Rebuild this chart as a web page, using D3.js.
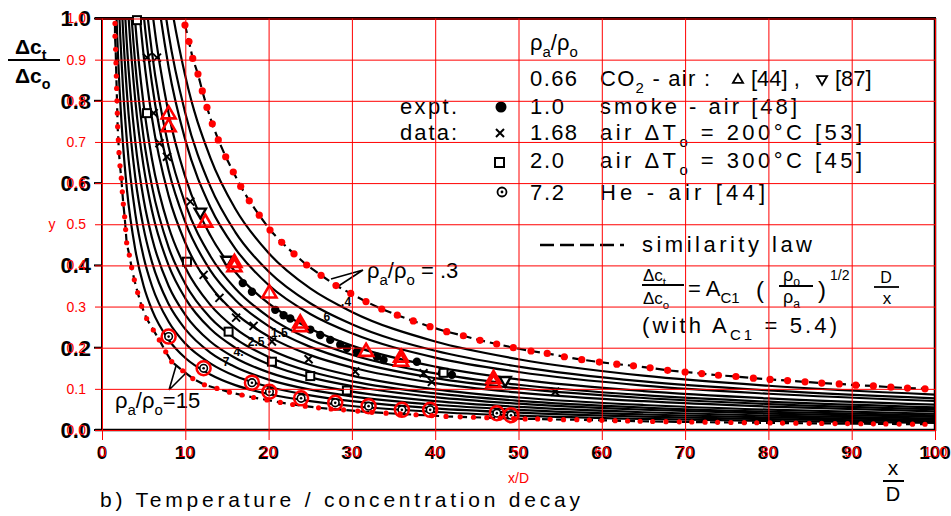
<!DOCTYPE html>
<html>
<head>
<meta charset="utf-8">
<script src="https://cdn.jsdelivr.net/npm/d3@7"></script>
<style>
  body { margin: 0; background: #fff; }
  svg { display: block; }
  text { font-family: "Liberation Sans", Arial, sans-serif; }
</style>
</head>
<body>
<svg id="chart" width="951" height="516"></svg>
<script>
// ---------- data ----------
const xTicks = [0, 10, 20, 30, 40, 50, 60, 70, 80, 90, 100];
const yTicks = [0, 0.1, 0.2, 0.3, 0.4, 0.5, 0.6, 0.7, 0.8, 0.9, 1.0];
const yTicksMajor = [0, 0.2, 0.4, 0.6, 0.8, 1.0];

// similarity-law curve for rho_a/rho_o = .3 (upper bound)
const upperDots = [
  [9.96,0.984],[10.44,0.944],[10.89,0.903],[11.52,0.865],[12.04,0.824],[12.6,0.784],[13.24,0.744],
  [13.96,0.705],[14.85,0.664],[15.76,0.627],[16.65,0.592],[17.68,0.557],[18.88,0.522],[20.17,0.486],
  [21.57,0.456],[23.05,0.428],[24.57,0.401],[26.3,0.376],[28.09,0.351],[29.86,0.332],[31.69,0.312],
  [33.58,0.294],[35.45,0.279],[37.37,0.265],[39.38,0.251],[41.38,0.239],[43.38,0.229],[45.38,0.218],
  [47.38,0.209],[49.38,0.200],[51.5,0.192],[53.45,0.186],[55.5,0.178],[57.59,0.171],[59.7,0.165],
  [61.8,0.160],[63.8,0.156],[65.8,0.151],[67.9,0.145],[70.0,0.141],[72.0,0.137],[74.0,0.133],
  [76.1,0.130],[78.2,0.126],[80.2,0.123],[82.3,0.120],[84.4,0.117],[86.4,0.114],[88.5,0.112],
  [90.5,0.109],[92.6,0.107],[94.7,0.104],[96.7,0.102],[98.8,0.100]
];

// similarity-law curve for rho_a/rho_o = 15 (lower bound)
const lowerDots = [
  [1.56,0.988],[1.56,0.957],[1.64,0.925],[1.68,0.892],[1.72,0.860],[1.76,0.830],[1.80,0.800],
  [1.84,0.770],[1.88,0.737],[1.96,0.705],[2.04,0.674],[2.16,0.642],[2.32,0.612],[2.44,0.579],
  [2.56,0.549],[2.72,0.518],[2.84,0.487],[2.96,0.455],[3.28,0.425],[3.56,0.395],[3.88,0.365],
  [4.28,0.334],[4.76,0.301],[5.36,0.271],[6.16,0.243],[6.88,0.219],[7.65,0.190],[8.37,0.166],
  [9.69,0.144],[10.9,0.125],[12.3,0.110],[13.8,0.101],[15.3,0.092],[16.8,0.085],[18.2,0.079],
  [19.8,0.073],[21.4,0.067],[22.9,0.062],[24.4,0.058],[26.0,0.054],[27.5,0.051],[29.0,0.049],
  [30.7,0.046],[32.4,0.043],[34.1,0.041],[35.8,0.039],[37.7,0.037],[39.6,0.035],[41.3,0.033],
  [43.0,0.032],[44.6,0.031],[46.2,0.030],[47.8,0.029],[49.4,0.028],[50.8,0.027],[52.3,0.027],
  [53.8,0.026],[55.4,0.025],[57.0,0.025],[58.5,0.024],[60.0,0.0235],[61.6,0.0227],[63.1,0.0219],
  [64.6,0.0213],[66.1,0.0207],[67.7,0.0203],[69.3,0.0198],[70.8,0.0194],[72.4,0.0190],[73.9,0.0186],
  [75.5,0.0182],[77.1,0.0179],[78.6,0.0176],[80.2,0.0172],[81.7,0.0169],[83.3,0.0166],[84.9,0.0163],
  [86.4,0.0160],[88.0,0.0157],[89.5,0.0155],[91.1,0.0152],[92.6,0.0150],[94.1,0.0147],[95.7,0.0145],
  [97.3,0.0142],[98.8,0.0140]
];

// CO2 - air, open triangles [44]
const co2Points = [
  [8.0,0.767],[8.0,0.736],[12.4,0.504],[15.9,0.406],[15.9,0.396],[20.1,0.332],[23.8,0.259],
  [23.8,0.250],[31.7,0.190],[35.9,0.176],[35.9,0.166],[47.0,0.124],[47.0,0.114]
];
// CO2 - air, inverted triangles [87]
const co2InvPoints = [[11.8,0.530],[15.0,0.413],[48.4,0.121]];
// smoke - air [48]
const smokePoints = [
  [16.9,0.357],[18.0,0.336],[20.8,0.292],[21.8,0.279],[22.6,0.271],[25.0,0.244],[26.2,0.231],
  [27.4,0.219],[28.6,0.207],[29.4,0.199],[30.6,0.190],[33.0,0.178],[33.8,0.170],[37.8,0.166],
  [40.8,0.138],[42.0,0.134]
];
// air, dT0 = 200 C [53]
const air200Points = [
  [5.4,0.905],[6.6,0.905],[6.2,0.770],[6.9,0.697],[7.8,0.664],[10.6,0.555],[12.2,0.377],
  [14.1,0.321],[16.1,0.273],[18.2,0.253],[20.4,0.215],[24.8,0.172],[30.4,0.142],[38.6,0.138],
  [39.6,0.117],[54.4,0.093]
];
// air, dT0 = 300 C [45]
const air300Points = [
  [4.2,0.996],[5.4,0.770],[10.2,0.409],[15.2,0.239],[20.4,0.166],[25.0,0.131],[29.4,0.096],[41.0,0.139]
];
// He - air [44]
const hePoints = [
  [8.0,0.227],[12.2,0.150],[18.0,0.115],[20.1,0.093],[23.9,0.077],[28.0,0.066],[32.0,0.058],
  [36.0,0.049],[39.4,0.049],[47.4,0.041],[49.1,0.036]
];

// family of similarity-law curves between the two bounds
const curveX = [1, 1.5, 2, 2.5, 3, 4, 5, 6, 8, 10, 13, 16, 20, 25, 30, 40, 50, 65, 80, 100];
const curveRatios = ['10','7','5','4','3','2.5','2','1.5','1.2','1','.8','.6','.5','.4'];
const curveY = [
  [1.75,1.167,.875,.70,.583,.438,.35,.292,.219,.175,.135,.109,.0875,.070,.0583,.0438,.035,.0269,.0219,.0175],
  [null,1.4,1.05,.84,.70,.525,.42,.35,.263,.21,.162,.131,.105,.084,.070,.0525,.042,.0323,.0263,.021],
  [null,1.633,1.225,.98,.817,.613,.49,.408,.306,.245,.188,.153,.1225,.098,.0817,.0613,.049,.0377,.0306,.0245],
  [null,null,1.4,1.12,.933,.70,.56,.467,.35,.28,.215,.175,.14,.112,.0933,.07,.056,.0431,.035,.028],
  [null,null,1.6,1.28,1.067,.80,.64,.533,.40,.32,.246,.20,.16,.128,.107,.08,.064,.0492,.04,.032],
  [null,null,1.775,1.42,1.183,.888,.71,.592,.444,.355,.273,.222,.1775,.142,.118,.0888,.071,.0546,.0444,.0355],
  [null,null,null,1.58,1.317,.988,.79,.658,.494,.395,.304,.247,.1975,.158,.132,.0988,.079,.0608,.0494,.0395],
  [null,null,null,1.82,1.517,1.138,.91,.758,.569,.455,.35,.284,.2275,.182,.152,.114,.091,.07,.0569,.0455],
  [null,null,null,null,1.683,1.263,1.01,.842,.631,.505,.388,.316,.2525,.202,.168,.126,.101,.0777,.0631,.0505],
  [null,null,null,null,1.833,1.375,1.1,.917,.688,.55,.423,.344,.275,.22,.183,.1375,.11,.0846,.0688,.055],
  [null,null,null,null,null,1.538,1.23,1.025,.769,.615,.473,.384,.3075,.246,.205,.154,.123,.0946,.0769,.0615],
  [null,null,null,null,null,1.763,1.41,1.175,.881,.705,.542,.441,.3525,.282,.235,.176,.141,.108,.0881,.0705],
  [null,null,null,null,null,null,1.54,1.283,.9625,.77,.592,.481,.385,.308,.257,.1925,.154,.118,.0963,.077],
  [null,null,null,null,null,null,1.72,1.433,1.075,.86,.662,.5375,.43,.344,.287,.215,.172,.132,.1075,.086]
];
// curve labels written along the family
const curveLabelText = ['.4', '.6', '1.5', '2.5', '4.', '7.'];
const curveLabelPos = [[29.3,0.311],[26.8,0.274],[21.3,0.236],[18.5,0.215],[16.4,0.189],[15.1,0.165]];

// ---------- setup ----------
const W = 951, H = 516;
const RED = '#ff0000';
const svg = d3.select('#chart');
svg.append('rect').attr('width', W).attr('height', H).attr('fill', '#fff');

const x = d3.scaleLinear().domain([0, 100]).range([102, 935]);
const y = d3.scaleLinear().domain([0, 1]).range([430, 18.5]);

svg.append('defs').append('clipPath').attr('id', 'plot-clip')
  .append('rect').attr('x', 102).attr('y', 18.5).attr('width', 833).attr('height', 411.5);

const ink = svg.append('g');          // black figure layer
const plot = ink.append('g').attr('clip-path', 'url(#plot-clip)');

// ---------- curve family ----------
const famLine = d3.line()
  .defined(d => d[1] != null)
  .x(d => x(d[0])).y(d => y(d[1]))
  .curve(d3.curveMonotoneX);

plot.selectAll('path.fam').data(curveY).join('path')
  .attr('class', 'fam')
  .attr('d', ys => famLine(curveX.map((v, i) => [v, ys[i]])))
  .attr('fill', 'none').attr('stroke', '#000').attr('stroke-width', 2.2);

const boundLine = d3.line().x(d => x(d[0])).y(d => y(d[1]));
[upperDots, lowerDots].forEach(pts => {
  plot.append('path')
    .attr('d', boundLine([[pts[0][0] - 0.05, 1.02], ...pts]))
    .attr('fill', 'none').attr('stroke', '#000').attr('stroke-width', 2.2)
    .attr('stroke-dasharray', '9,5');
});

// ---------- frame ----------
ink.append('line').attr('x1', 95).attr('x2', 936).attr('y1', 18.5).attr('y2', 18.5)
  .attr('stroke', '#000').attr('stroke-width', 3);
ink.append('line').attr('x1', 102).attr('x2', 102).attr('y1', 18).attr('y2', 431)
  .attr('stroke', '#000').attr('stroke-width', 2);
ink.append('line').attr('x1', 935).attr('x2', 935).attr('y1', 18).attr('y2', 431)
  .attr('stroke', '#000').attr('stroke-width', 2.5);
ink.append('line').attr('x1', 95).attr('x2', 936).attr('y1', 430).attr('y2', 430)
  .attr('stroke', '#000').attr('stroke-width', 2.5);
ink.selectAll('line.ytk').data(yTicksMajor).join('line').attr('class', 'ytk')
  .attr('x1', 94).attr('x2', 102).attr('y1', d => y(d)).attr('y2', d => y(d))
  .attr('stroke', '#000').attr('stroke-width', 2);

// black tick labels
ink.selectAll('text.ylab').data(yTicksMajor).join('text').attr('class', 'ylab')
  .attr('x', 91).attr('y', d => y(d)).attr('dy', '0.36em')
  .attr('text-anchor', 'end').attr('font-size', 22).attr('font-weight', 'bold')
  .text(d => d3.format('.1f')(d));
ink.selectAll('text.xlab').data(xTicks).join('text').attr('class', 'xlab')
  .attr('x', d => x(d)).attr('y', 459)
  .attr('text-anchor', 'middle').attr('font-size', 19).attr('font-weight', 'bold')
  .text(d => d);

// ---------- black data markers ----------
ink.selectAll('circle.smoke').data(smokePoints).join('circle').attr('class', 'smoke')
  .attr('cx', d => x(d[0])).attr('cy', d => y(d[1])).attr('r', 4.2).attr('fill', '#000');

const crossPath = s => `M${-s},${-s}L${s},${s}M${-s},${s}L${s},${-s}`;
ink.selectAll('path.cross').data(air200Points).join('path').attr('class', 'cross')
  .attr('transform', d => `translate(${x(d[0])},${y(d[1])})`)
  .attr('d', crossPath(4)).attr('stroke', '#000').attr('stroke-width', 2);

ink.selectAll('rect.sq').data(air300Points).join('rect').attr('class', 'sq')
  .attr('x', d => x(d[0]) - 4).attr('y', d => y(d[1]) - 4).attr('width', 8).attr('height', 8)
  .attr('fill', '#fff').attr('stroke', '#000').attr('stroke-width', 2);

const invTri = d3.symbol(d3.symbolTriangle, 55);
ink.selectAll('path.inv').data(co2InvPoints).join('path').attr('class', 'inv')
  .attr('transform', d => `translate(${x(d[0])},${y(d[1])}) rotate(180)`)
  .attr('d', invTri).attr('fill', '#fff').attr('stroke', '#000').attr('stroke-width', 2.4);

ink.selectAll('circle.he').data(hePoints).join('circle').attr('class', 'he')
  .attr('cx', d => x(d[0])).attr('cy', d => y(d[1])).attr('r', 3.8)
  .attr('fill', '#fff').attr('stroke', '#000').attr('stroke-width', 1.6);
ink.selectAll('circle.hedot').data(hePoints).join('circle').attr('class', 'hedot')
  .attr('cx', d => x(d[0])).attr('cy', d => y(d[1])).attr('r', 1.3).attr('fill', '#000');

// curve labels
ink.selectAll('text.clab').data(curveLabelText).join('text').attr('class', 'clab')
  .attr('x', (d, i) => x(curveLabelPos[i][0])).attr('y', (d, i) => y(curveLabelPos[i][1]))
  .attr('dy', '0.35em').attr('text-anchor', 'middle')
  .attr('font-size', 12).attr('font-weight', 'bold').text(d => d);

// ---------- text helpers ----------
function rich(x0, y0, parts, size, extra) {
  const t = ink.append('text').attr('x', x0).attr('y', y0).attr('font-size', size);
  let shift = 0;
  parts.forEach(p => {
    const [s, kind] = Array.isArray(p) ? p : [p, null];
    const target = kind === 'sub' ? size * 0.3 : kind === 'sup' ? -size * 0.42 : 0;
    const ts = t.append('tspan').text(s).attr('dy', target - shift);
    if (kind) ts.attr('font-size', size * 0.68);
    shift = target;
  });
  if (extra) Object.entries(extra).forEach(([k, v]) => t.attr(k, v));
  return t;
}
function hline(x1, x2, yy, w) {
  ink.append('line').attr('x1', x1).attr('x2', x2).attr('y1', yy).attr('y2', yy)
    .attr('stroke', '#000').attr('stroke-width', w || 1.8);
}

// axis titles of the figure
rich(15, 54, ['Δc', ['t', 'sub']], 21, { 'font-weight': 'bold' });
hline(8, 60, 60, 2);
rich(15, 83, ['Δc', ['o', 'sub']], 21, { 'font-weight': 'bold' });

ink.append('text').attr('x', 893).attr('y', 475).attr('text-anchor', 'middle')
  .attr('font-size', 21).text('x');
hline(883, 904, 481, 2);
ink.append('text').attr('x', 893).attr('y', 501).attr('text-anchor', 'middle')
  .attr('font-size', 20).text('D');

ink.append('text').attr('x', 100).attr('y', 507).attr('font-size', 21)
  .attr('textLength', 480).attr('lengthAdjust', 'spacing')
  .text('b) Temperature / concentration decay');

// ---------- legend ----------
rich(530, 50, ['ρ', ['a', 'sub'], '/ρ', ['o', 'sub']], 22);

const legendRatio = ['0.66', '1.0', '1.68', '2.0', '7.2'];
const legendBase = [86, 114, 140, 168, 200];
legendRatio.forEach((r, i) => {
  ink.append('text').attr('x', 530).attr('y', legendBase[i]).attr('font-size', 22)
    .attr('textLength', r.length > 3 ? 47 : 34).attr('lengthAdjust', 'spacing').text(r);
});

rich(600, 86, ['CO', ['2', 'sub'], ' - air :'], 22, { textLength: 110, lengthAdjust: 'spacing' });
ink.append('path').attr('transform', 'translate(738,80)')
  .attr('d', d3.symbol(d3.symbolTriangle, 45)).attr('fill', 'none')
  .attr('stroke', '#000').attr('stroke-width', 1.8);
ink.append('text').attr('x', 751).attr('y', 86).attr('font-size', 22).text('[44] ,');
ink.append('path').attr('transform', 'translate(822,79) rotate(180)')
  .attr('d', d3.symbol(d3.symbolTriangle, 45)).attr('fill', 'none')
  .attr('stroke', '#000').attr('stroke-width', 1.8);
ink.append('text').attr('x', 835).attr('y', 86).attr('font-size', 22).text('[87]');

ink.append('text').attr('x', 400).attr('y', 114).attr('font-size', 22)
  .attr('textLength', 57).attr('lengthAdjust', 'spacing').text('expt.');
ink.append('text').attr('x', 400).attr('y', 140).attr('font-size', 22)
  .attr('textLength', 57).attr('lengthAdjust', 'spacing').text('data:');

ink.append('circle').attr('cx', 501).attr('cy', 107).attr('r', 5.5).attr('fill', '#000');
ink.append('path').attr('transform', 'translate(500,133)').attr('d', crossPath(4))
  .attr('stroke', '#000').attr('stroke-width', 2);
ink.append('rect').attr('x', 495).attr('y', 158).attr('width', 9).attr('height', 9)
  .attr('fill', '#fff').attr('stroke', '#000').attr('stroke-width', 2);
ink.append('circle').attr('cx', 502).attr('cy', 192).attr('r', 4.5)
  .attr('fill', '#fff').attr('stroke', '#000').attr('stroke-width', 1.8);
ink.append('circle').attr('cx', 502).attr('cy', 192).attr('r', 1.4).attr('fill', '#000');

ink.append('text').attr('x', 600).attr('y', 114).attr('font-size', 22)
  .attr('textLength', 197).attr('lengthAdjust', 'spacing').text('smoke  - air [48]');
rich(600, 140, ['air  ΔT', ['o', 'sub'], '  = 200°C  [53]'], 22, { textLength: 262, lengthAdjust: 'spacing' });
rich(600, 168, ['air  ΔT', ['o', 'sub'], '  = 300°C   [45]'], 22, { textLength: 262, lengthAdjust: 'spacing' });
ink.append('text').attr('x', 600).attr('y', 200).attr('font-size', 22)
  .attr('textLength', 165).attr('lengthAdjust', 'spacing').text('He - air  [44]');

ink.append('line').attr('x1', 540).attr('x2', 624).attr('y1', 245).attr('y2', 245)
  .attr('stroke', '#000').attr('stroke-width', 2.4).attr('stroke-dasharray', '14,6');
ink.append('text').attr('x', 642).attr('y', 252).attr('font-size', 22)
  .attr('textLength', 170).attr('lengthAdjust', 'spacing').text('similarity  law');

// formula
rich(643, 281, ['Δc', ['t', 'sub']], 17);
hline(642, 684, 285, 1.8);
rich(643, 304, ['Δc', ['o', 'sub']], 17);
rich(688, 296, ['= A', ['C1', 'sub']], 22);
ink.append('text').attr('x', 756).attr('y', 298).attr('font-size', 24).text('(');
rich(783, 281, ['ρ', ['o', 'sub']], 18);
hline(779, 813, 286, 1.8);
rich(783, 303, ['ρ', ['a', 'sub']], 18);
ink.append('text').attr('x', 818).attr('y', 298).attr('font-size', 24).text(')');
ink.append('text').attr('x', 830).attr('y', 280).attr('font-size', 14).text('1/2');
ink.append('text').attr('x', 886).attr('y', 283).attr('text-anchor', 'middle')
  .attr('font-size', 16).text('D');
hline(874, 899, 287, 1.8);
ink.append('text').attr('x', 887).attr('y', 304).attr('text-anchor', 'middle')
  .attr('font-size', 17).text('x');
rich(642, 333, ['(with  A', ['C1', 'sub'], ' =  5.4)'], 22, { textLength: 195, lengthAdjust: 'spacing' });

// curve annotations
rich(367, 278, ['ρ', ['a', 'sub'], '/ρ', ['o', 'sub'], ' = .3'], 22);
ink.append('path').attr('d', 'M363,270L331,279M363,270L337,287')
  .attr('stroke', '#000').attr('stroke-width', 1.6).attr('fill', 'none');
rich(115, 408, ['ρ', ['a', 'sub'], '/ρ', ['o', 'sub'], '=15'], 22);
ink.append('path').attr('d', 'M169,390L176,366M169,390L186,373')
  .attr('stroke', '#000').attr('stroke-width', 1.6).attr('fill', 'none');

// ---------- red axes and grid ----------
const axX = svg.append('g').attr('transform', 'translate(0,440)')
  .call(d3.axisBottom(x).tickValues(xTicks).tickSizeInner(-(440 - 18.5)).tickSizeOuter(0)
    .tickPadding(7).tickFormat(d3.format('d')));
axX.select('.domain').remove();
axX.selectAll('line').attr('stroke', RED).attr('stroke-width', 1);
axX.selectAll('text').attr('fill', RED);
axX.attr('font-size', 14).attr('font-family', '"Liberation Sans", Arial, sans-serif');

const axY = svg.append('g').attr('transform', 'translate(95,0)')
  .call(d3.axisLeft(y).tickValues(yTicks).tickSizeInner(-(935 - 95)).tickSizeOuter(0)
    .tickPadding(9).tickFormat(d3.format('.1f')));
axY.select('.domain').remove();
axY.selectAll('line').attr('stroke', RED).attr('stroke-width', 1);
axY.selectAll('text').attr('fill', RED);
axY.attr('font-size', 14).attr('font-family', '"Liberation Sans", Arial, sans-serif');

svg.append('text').attr('x', 518.5).attr('y', 483).attr('text-anchor', 'middle')
  .attr('fill', RED).attr('font-size', 14).text('x/D');
svg.append('text').attr('x', 52).attr('y', 229).attr('text-anchor', 'middle')
  .attr('fill', RED).attr('font-size', 14).text('y');

// ---------- red markers ----------
const marks = svg.append('g');
marks.selectAll('circle.up').data(upperDots).join('circle').attr('class', 'up')
  .attr('cx', d => x(d[0])).attr('cy', d => y(d[1])).attr('r', 3.6).attr('fill', RED);
marks.selectAll('circle.lo').data(lowerDots).join('circle').attr('class', 'lo')
  .attr('cx', d => x(d[0])).attr('cy', d => y(d[1])).attr('r', 2.6).attr('fill', RED);
marks.selectAll('circle.hering').data(hePoints).join('circle').attr('class', 'hering')
  .attr('cx', d => x(d[0])).attr('cy', d => y(d[1])).attr('r', 7)
  .attr('fill', 'none').attr('stroke', RED).attr('stroke-width', 2.5);
const tri = d3.symbol(d3.symbolTriangle, 85);
marks.selectAll('path.co2').data(co2Points).join('path').attr('class', 'co2')
  .attr('transform', d => `translate(${x(d[0])},${y(d[1])})`)
  .attr('d', tri).attr('fill', 'none').attr('stroke', RED).attr('stroke-width', 2.6);
</script>
</body>
</html>
